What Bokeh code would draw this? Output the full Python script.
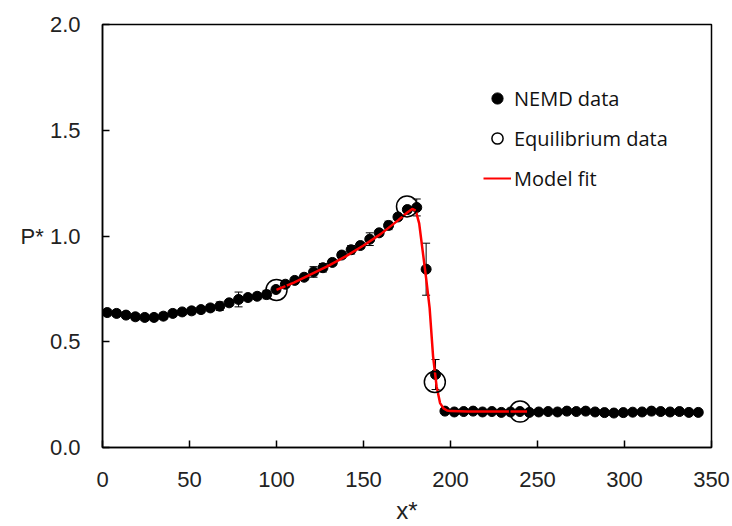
from bokeh.plotting import figure
from bokeh.models import (Range1d, ColumnDataSource, Whisker, TeeHead, Legend, LegendItem,
                          NumeralTickFormatter, FixedTicker)
from bokeh.embed import file_html
from bokeh.resources import INLINE

# NEMD data (bin centres and values)
nemd_x = [2.7, 8.1, 13.5, 18.9, 24.3, 29.6, 35.0, 40.4, 45.8, 51.2, 56.6, 62.0, 67.4, 72.8,
          78.2, 83.6, 88.9, 94.3, 99.7, 105.1, 110.5, 115.9, 121.3, 126.7, 132.1, 137.5,
          142.9, 148.2, 153.6, 159.0, 164.4, 169.8, 175.2, 180.6, 186.0, 191.4, 196.8,
          202.2, 207.6, 213.0, 218.4, 223.8, 229.2, 234.5, 239.9, 245.3, 250.7, 256.1,
          261.5, 266.9, 272.3, 277.7, 283.1, 288.5, 293.9, 299.3, 304.7, 310.1, 315.5,
          320.8, 326.2, 331.6, 337.0, 342.4]
nemd_p = [0.638, 0.634, 0.626, 0.618, 0.615, 0.615, 0.621, 0.634, 0.641, 0.646, 0.652, 0.660,
          0.668, 0.684, 0.700, 0.709, 0.715, 0.723, 0.747, 0.772, 0.790, 0.805, 0.830, 0.850,
          0.875, 0.910, 0.935, 0.955, 0.985, 1.015, 1.050, 1.090, 1.125, 1.135, 0.843, 0.345,
          0.172, 0.168, 0.170, 0.172, 0.168, 0.170, 0.166, 0.168, 0.170, 0.166, 0.168, 0.170,
          0.168, 0.172, 0.170, 0.172, 0.168, 0.165, 0.163, 0.165, 0.167, 0.168, 0.172, 0.170,
          0.168, 0.170, 0.166, 0.166]
nemd_err = [0.015, 0.015, 0.015, 0.015, 0.015, 0.015, 0.015, 0.015, 0.015, 0.015, 0.015, 0.015,
            0.02, 0.015, 0.035, 0.015, 0.015, 0.02, 0.015, 0.015, 0.015, 0.015, 0.025, 0.02,
            0.015, 0.015, 0.02, 0.015, 0.03, 0.015, 0.02, 0.015, 0.015, 0.04, 0.123, 0.071,
            0.01, 0.01, 0.01, 0.01, 0.01, 0.01, 0.01, 0.01, 0.01, 0.01, 0.01, 0.01,
            0.01, 0.01, 0.01, 0.01, 0.01, 0.01, 0.01, 0.01, 0.01, 0.01, 0.01, 0.01,
            0.01, 0.01, 0.01, 0.01]

# Equilibrium data
eq_x = [100, 175, 191, 240]
eq_p = [0.745, 1.14, 0.31, 0.17]

# Model fit
fit_x = [100, 110, 120, 130, 140, 150, 160, 170, 175, 178, 180, 182, 184, 186, 188, 190,
         192, 194, 196, 198, 200, 210, 244]
fit_p = [0.745, 0.78, 0.82, 0.86, 0.905, 0.955, 1.01, 1.075, 1.11, 1.128, 1.12, 1.06, 0.93,
         0.80, 0.66, 0.43, 0.29, 0.21, 0.185, 0.175, 0.172, 0.17, 0.17]

x_ticks = [0, 50, 100, 150, 200, 250, 300, 350]
y_ticks = [0.0, 0.5, 1.0, 1.5, 2.0]
y_title = "P*"

TICK_FONT = "Liberation Sans"
LEG_FONT = "Open Sans"

p = figure(width=732, height=526, output_backend="svg", toolbar_location=None,
           x_range=Range1d(0, 350), y_range=Range1d(0, 2.0),
           min_border_left=102, min_border_right=21, min_border_top=24, min_border_bottom=79)
p.xgrid.visible = False
p.ygrid.visible = False
p.outline_line_color = "black"
p.outline_line_width = 1.5
p.outline_line_alpha = 1.0

for ax in (p.xaxis[0], p.yaxis[0]):
    ax.axis_line_width = 1.5
    ax.axis_line_color = "black"
    ax.major_tick_in = 7
    ax.major_tick_out = 0
    ax.minor_tick_line_color = None
    ax.major_tick_line_width = 1.5
    ax.major_label_text_font = TICK_FONT
    ax.major_label_text_font_size = "22px"
    ax.major_label_text_color = "#222222"

p.xaxis.major_label_standoff = 24
p.yaxis.major_label_standoff = 22
p.xaxis.ticker = FixedTicker(ticks=x_ticks)
p.yaxis.ticker = FixedTicker(ticks=y_ticks)
p.yaxis.formatter = NumeralTickFormatter(format="0.0")
# the y title sits horizontally, just left of the 1.0 tick label
p.yaxis.major_label_overrides = {1.0: y_title + " 1.0", 1: y_title + " 1.0"}
p.xaxis.axis_label = "x*"
p.xaxis.axis_label_text_font = TICK_FONT
p.xaxis.axis_label_text_font_size = "24px"
p.xaxis.axis_label_text_font_style = "normal"
p.xaxis.axis_label_text_color = "#222222"
p.xaxis.axis_label_standoff = 7

src = ColumnDataSource(dict(x=nemd_x, p=nemd_p,
                            lo=[a - b for a, b in zip(nemd_p, nemd_err)],
                            hi=[a + b for a, b in zip(nemd_p, nemd_err)]))
wh = Whisker(source=src, base="x", lower="lo", upper="hi", line_color="black", line_width=1,
             upper_head=TeeHead(size=8, line_color="black", line_width=1),
             lower_head=TeeHead(size=8, line_color="black", line_width=1),
             level="underlay")
p.add_layout(wh)

r_nemd = p.scatter("x", "p", source=src, size=10, color="black")
r_fit = p.line(fit_x, fit_p, line_color="#FF0000", line_width=2.5)
r_eq = p.scatter(eq_x, eq_p, size=21, fill_color=None, line_color="black", line_width=1.5)

# legend proxies (smaller symbols as in the reference legend), placed off-range
l_nemd = p.scatter([-500], [-500], size=7, color="black")
l_eq = p.scatter([-500], [-500], size=11, fill_color=None, line_color="black", line_width=1.5)
l_fit = p.line([-500, -400], [-500, -500], line_color="#FF0000", line_width=2)

legend = Legend(items=[LegendItem(label="NEMD data", renderers=[l_nemd]),
                       LegendItem(label="Equilibrium data", renderers=[l_eq]),
                       LegendItem(label="Model fit", renderers=[l_fit])],
                location=(381, 249), padding=0, spacing=0, margin=0,
                glyph_width=28, glyph_height=40, label_height=40, label_standoff=3,
                label_text_font=LEG_FONT, label_text_font_size="20px",
                label_text_color="#111111", label_text_baseline="middle",
                background_fill_alpha=0, border_line_alpha=0)
p.add_layout(legend)

open("out.html", "w").write(file_html(p, INLINE))
